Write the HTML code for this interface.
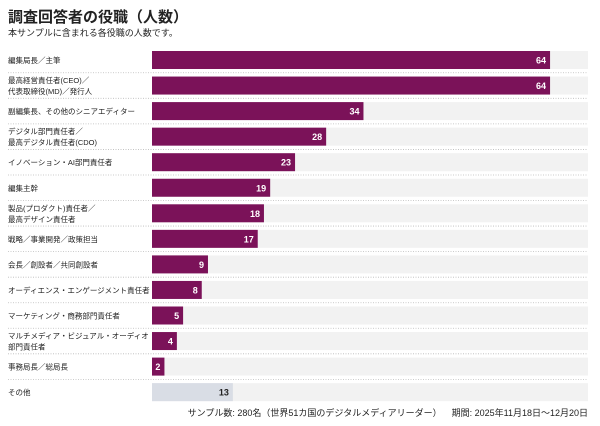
<!DOCTYPE html>
<html><head><meta charset="utf-8"><style>
body{margin:0;width:600px;height:426px;background:#fff;font-family:"Liberation Sans","Noto Sans CJK JP",sans-serif;color:#222;position:relative;overflow:hidden}
#title{position:absolute;left:8px;top:6px;font-size:15px;font-weight:bold}
#sub{position:absolute;left:8px;top:26px;font-size:9px}
#foot{position:absolute;right:12px;top:406px;font-size:9px;white-space:pre}
</style></head><body>
<div id="title">調査回答者の役職（人数）</div>
<div id="sub">本サンプルに含まれる各役職の人数です。</div>
<svg id="chart" width="600" height="426" style="position:absolute;left:0;top:0"></svg>
<div id="foot">サンプル数: 280名（世界51カ国のデジタルメディアリーダー）    期間: 2025年11月18日〜12月20日</div>
<script>
const categories=[["編集局長／主筆"],["最高経営責任者(CEO)／","代表取締役(MD)／発行人"],["副編集長、その他のシニアエディター"],["デジタル部門責任者／","最高デジタル責任者(CDO)"],["イノベーション・AI部門責任者"],["編集主幹"],["製品(プロダクト)責任者／","最高デザイン責任者"],["戦略／事業開発／政策担当"],["会長／創設者／共同創設者"],["オーディエンス・エンゲージメント責任者"],["マーケティング・商務部門責任者"],["マルチメディア・ビジュアル・オーディオ","部門責任者"],["事務局長／総局長"],["その他"]];
const values=[64,64,34,28,23,19,18,17,9,8,5,4,2,13];
const svg=document.getElementById('chart');const NS='http://www.w3.org/2000/svg';
const x0=152,xMax=588,maxV=70.1,y0=60,step=25.55,bh=18;
const xs=v=>v/maxV*(xMax-x0);
function mk(t,a){const e=document.createElementNS(NS,t);for(const k in a)e.setAttribute(k,a[k]);svg.appendChild(e);return e;}
values.forEach((v,i)=>{
 const cy=y0+i*step;const other=i===values.length-1;
 const tr=mk('rect',{x:x0,y:cy-bh/2,width:xMax-x0,height:bh,fill:'#f2f2f2'});
 
 
 const w=xs(v);
 const b=mk('rect',{x:x0,y:cy-bh/2,width:w,height:bh,fill:other?'#d9dde5':'#7b1259'});
 
 
 const t=mk('text',{x:x0+w-4,y:cy+3.5,'text-anchor':'end','font-size':'9','font-weight':'bold',fill:other?'#222':'#fff'});
 t.textContent=v;
 
 
 const lines=categories[i];
 lines.forEach((s,j)=>{
  const l=mk('text',{x:8,y:cy+3+(j-(lines.length-1)/2)*11,'font-size':'7.5',fill:'#222'});
  l.textContent=s;
  
  
 });
 if(i<values.length-1){
  const d=mk('line',{x1:8,x2:xMax,y1:cy+step/2,y2:cy+step/2,stroke:'#bbb','stroke-width':'0.8','stroke-dasharray':'1 1.5'});
  
  
 }
});
</script>
</body></html>
